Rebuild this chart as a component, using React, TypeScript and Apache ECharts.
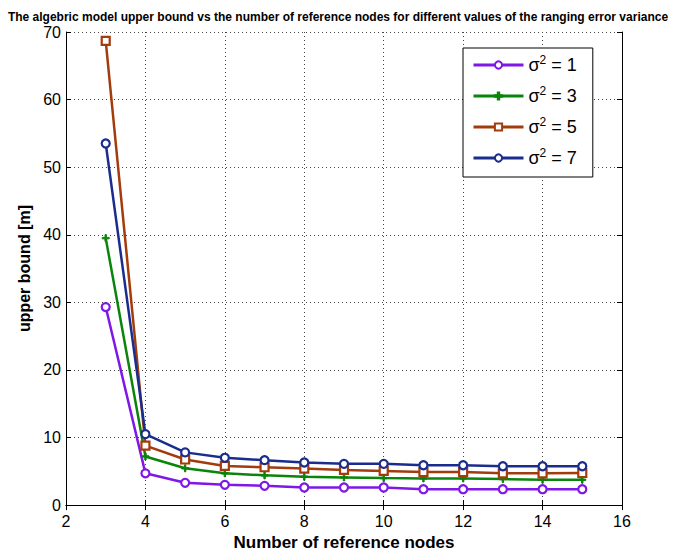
import React, { useEffect, useRef } from "react";
import * as echarts from "echarts";

// Number of reference nodes (x axis)
const nodes = [3, 4, 5, 6, 7, 8, 9, 10, 11, 12, 13, 14, 15];

// Upper bound [m] for each ranging error variance
const var1 = [29.3, 4.7, 3.3, 3.0, 2.85, 2.6, 2.6, 2.6, 2.35, 2.35, 2.35, 2.35, 2.35];
const var3 = [39.5, 7.2, 5.45, 4.7, 4.4, 4.2, 4.1, 4.0, 3.95, 3.95, 3.85, 3.75, 3.75];
const var5 = [68.7, 8.8, 6.75, 5.8, 5.6, 5.4, 5.2, 5.05, 4.9, 4.9, 4.7, 4.7, 4.75];
const var7 = [53.5, 10.5, 7.8, 7.0, 6.65, 6.3, 6.1, 6.1, 5.9, 5.9, 5.75, 5.75, 5.75];

const variances = [1, 3, 5, 7];
const colors = ["#7f17e6", "#0a840a", "#a33c0c", "#1b2d8c"];

const xTicks = { min: 2, max: 16, interval: 2 };
const yTicks = { min: 0, max: 70, interval: 10 };

const asterisk =
  "path://M4 0L6 0L6 4L10 4L10 6L6 6L6 10L4 10L4 6L0 6L0 4L4 4Z";

const FONT = "Liberation Sans, Arial, Helvetica, sans-serif";

export default function App() {
  const ref = useRef<HTMLDivElement>(null);

  useEffect(() => {
    if (!ref.current) return;
    const chart = echarts.init(ref.current, null, { renderer: "svg" });

    const seriesData = [var1, var3, var5, var7];
    const symbols = ["circle", asterisk, "rect", "circle"];
    const symbolSizes = [8, 7, 8, 8];

    const series = seriesData.map((vals, i) => ({
      type: "line" as const,
      name: `σ² = ${variances[i]}`,
      data: nodes.map((n, k) => [n, vals[k]]),
      xAxisIndex: 0,
      yAxisIndex: 0,
      symbol: symbols[i],
      symbolSize: symbolSizes[i],
      showAllSymbol: true,
      lineStyle: { color: colors[i], width: 2.5 },
      itemStyle: {
        color: i === 1 ? colors[i] : "#ffffff",
        borderColor: colors[i],
        borderWidth: i === 1 ? 1 : 2.2,
      },
      z: 2 + i,
    }));

    const gridLine = {
      show: true,
      lineStyle: { color: "#444", width: 1, type: [1, 3] as number[] },
    };
    const axisLine = { show: true, lineStyle: { color: "#000", width: 1 } };
    const tickIn = { show: true, inside: true, length: 5, lineStyle: { color: "#000" } };

    chart.setOption({
      animation: false,
      backgroundColor: "#ffffff",
      title: {
        text:
          "The algebric model upper bound vs the number of reference nodes for different values of the ranging error variance",
        left: "center",
        top: 6,
        textStyle: { fontFamily: FONT, fontSize: 12, fontWeight: "bold", color: "#000" },
      },
      grid: { left: 66, right: 54, top: 32, bottom: 46, containLabel: false },
      legend: {
        show: true,
        left: 463,
        top: 48,
        orient: "vertical",
        backgroundColor: "#ffffff",
        borderColor: "#000",
        borderWidth: 1,
        padding: [6, 16, 8, 9],
        itemWidth: 50,
        itemHeight: 9,
        itemGap: 9,
        lineStyle: { width: 3 },
        formatter: (name: string) => {
          const v = name.split("= ")[1];
          return `{t|σ}{sup|2}{t| = ${v}}`;
        },
        textStyle: {
          fontFamily: FONT,
          color: "#000",
          rich: {
            t: { fontSize: 18, lineHeight: 22, fontFamily: FONT, color: "#000" },
            sup: {
              fontSize: 12,
              lineHeight: 22,
              fontFamily: FONT,
              color: "#000",
              padding: [0, 0, 10, 0],
            },
          },
        },
      },
      xAxis: [
        {
          type: "value",
          ...xTicks,
          position: "bottom",
          name: "Number of reference nodes",
          nameLocation: "middle",
          nameGap: 28,
          nameTextStyle: { fontFamily: FONT, fontSize: 17, fontWeight: "bold", color: "#000" },
          axisLine,
          axisTick: tickIn,
          splitLine: gridLine,
          axisLabel: { fontFamily: FONT, fontSize: 16, color: "#000", margin: 8 },
        },
        {
          type: "value",
          ...xTicks,
          position: "top",
          axisLine,
          axisTick: tickIn,
          splitLine: { show: false },
          axisLabel: { show: false },
        },
      ],
      yAxis: [
        {
          type: "value",
          ...yTicks,
          position: "left",
          name: "upper bound [m]",
          nameLocation: "middle",
          nameGap: 33,
          nameRotate: 90,
          nameTextStyle: { fontFamily: FONT, fontSize: 16, fontWeight: "bold", color: "#000" },
          axisLine,
          axisTick: tickIn,
          splitLine: gridLine,
          axisLabel: { fontFamily: FONT, fontSize: 16, color: "#000", margin: 5 },
        },
        {
          type: "value",
          ...yTicks,
          position: "right",
          axisLine,
          axisTick: tickIn,
          splitLine: { show: false },
          axisLabel: { show: false },
        },
      ],
      series,
    });

    return () => chart.dispose();
  }, []);

  return (
    <div
      ref={ref}
      style={{ position: "fixed", left: 0, top: 0, width: 676, height: 556 }}
    />
  );
}
